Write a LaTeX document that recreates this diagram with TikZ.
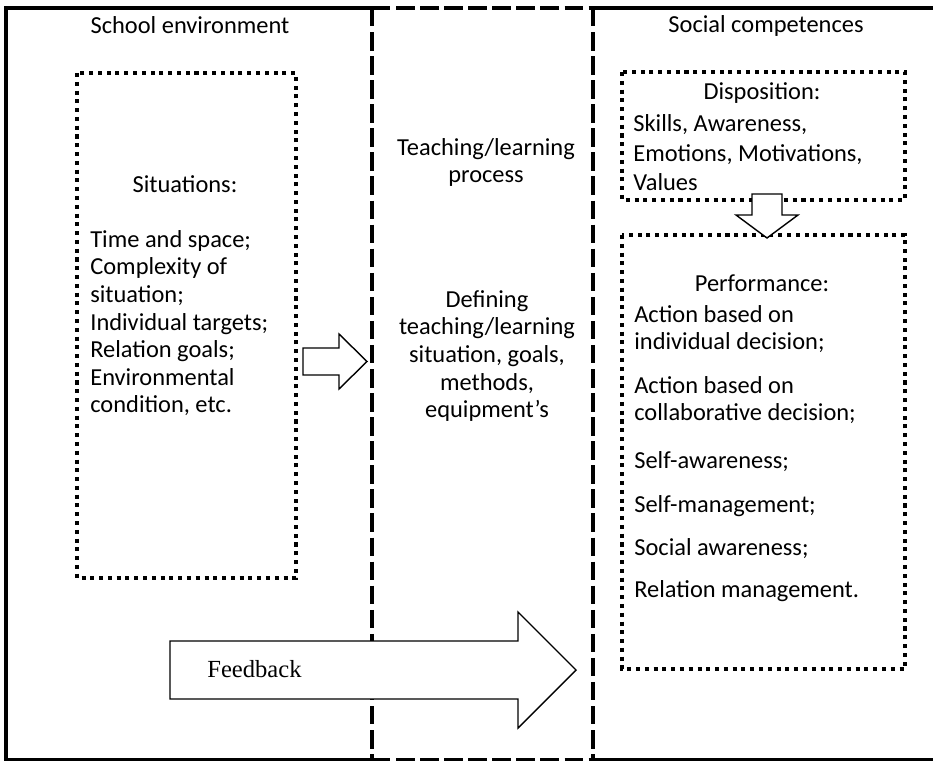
\documentclass[tikz,border=0pt]{standalone}
\usepackage{fontspec}
\setmainfont{Carlito}
\newfontfamily\serifrm{Liberation Serif}
\begin{document}
\begin{tikzpicture}[x=0.02cm,y=-0.02cm,
  frame/.style={line width=2pt},
  dashframe/.style={line width=2pt, dash pattern=on 10.5pt off 3.2pt},
  dotbox/.style={line width=2.3pt, dash pattern=on 2.3pt off 2.7pt},
  blockarrow/.style={draw, fill=white, line width=0.8pt, line join=miter},
  body/.style={font=\fontsize{13.9}{15.7}\selectfont, inner sep=0pt},
  bodywide/.style={font=\fontsize{13.9}{17}\selectfont, inner sep=0pt},
  fbtext/.style={font=\serifrm\fontsize{14}{16}\selectfont, inner sep=0pt}]
\useasboundingbox (0,0) rectangle (933,763);
\fill[white] (0,0) rectangle (933,763);

% outer frame: solid outside, dashed around the middle column
\draw[frame] (933,8) -- (593,8);
\draw[frame] (372,8) -- (6,8) -- (6,759.5) -- (372,759.5);
\draw[frame] (593,759.5) -- (933,759.5);
\draw[dashframe] (372,8) -- (593,8);
\draw[dashframe] (372,759.5) -- (593,759.5);
\draw[dashframe] (372,8) -- (372,759.5);
\draw[dashframe] (593,8) -- (593,759.5);

% dotted boxes
\draw[dotbox] (77,73) rectangle (296,578);
\draw[dotbox] (622,72) rectangle (905,200);
\draw[dotbox] (622,235) rectangle (905,669);

% block arrows
\draw[blockarrow] (303,348) -- (339,348) -- (339,334) -- (367,361.5) -- (339,389) -- (339,375) -- (303,375) -- cycle;
\draw[blockarrow] (752,194) -- (782,194) -- (782,215) -- (798,215) -- (767,238) -- (736,215) -- (752,215) -- cycle;
\draw[blockarrow] (170,641) -- (518,641) -- (518,612) -- (576,670) -- (518,728) -- (518,699) -- (170,699) -- cycle;

% column titles
\node[body, anchor=base] (school) at (190,34) {School environment};
\node[body, anchor=base] (social) at (766,33) {Social competences};

% left column
\node[body, anchor=base] (sithead) at (185,193) {Situations:};
\node[body, anchor=north west, align=left] (sitlist) at (90,227.6)
  {\strut Time and space;\\Complexity of\\situation;\\Individual targets;\\Relation goals;\\Environmental\\condition, etc.};

% middle column
\node[body, anchor=north, align=center] (tlp) at (486,135.6) {\strut Teaching/learning\\process};
\node[body, anchor=north, align=center] (define) at (487,287.6)
  {\strut Defining\\teaching/learning\\situation, goals,\\methods,\\equipment’s};

% right column
\node[body, anchor=base] (disphead) at (762,100) {Disposition:};
\node[bodywide, anchor=north west, align=left] (displist) at (633,110)
  {\strut Skills, Awareness,\\Emotions, Motivations,\\Values};

\node[body, anchor=base] (perfhead) at (762,292) {Performance:};
\node[body, anchor=north west, align=left] (perfa) at (634,302.6) {\strut Action based on\\individual decision;};
\node[body, anchor=north west, align=left] (perfb) at (634,373.6) {\strut Action based on\\collaborative decision;};
\node[body, anchor=base west] (perfc) at (634,468) {Self-awareness;};
\node[body, anchor=base west] (perfd) at (634,512) {Self-management;};
\node[body, anchor=base west] (perfe) at (634,555) {Social awareness;};
\node[body, anchor=base west] (perff) at (634,597) {Relation management.};

% feedback label
\node[fbtext, anchor=base] (fb) at (254.5,677) {Feedback};
\end{tikzpicture}
\end{document}
